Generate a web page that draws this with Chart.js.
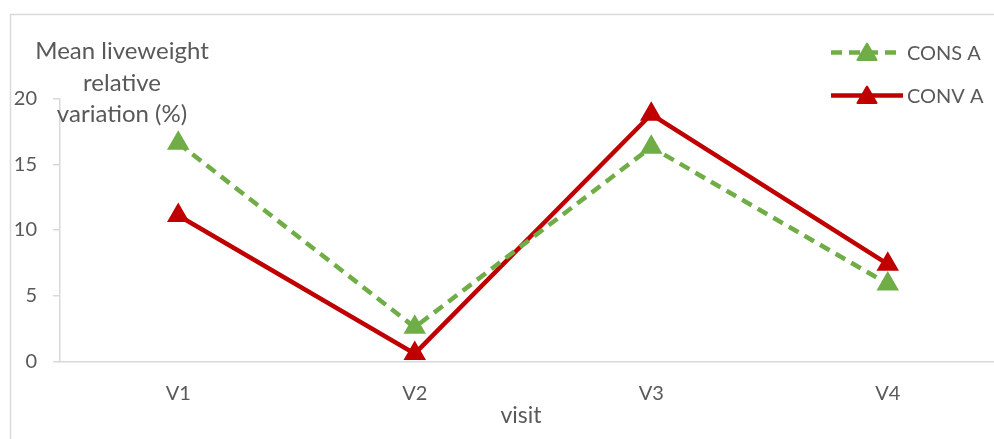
<!DOCTYPE html>
<html>
<head>
<meta charset="utf-8">
<script src="https://cdn.jsdelivr.net/npm/chart.js@4.4.1/dist/chart.umd.min.js"></script>
<style>
  html, body { margin: 0; padding: 0; background: #ffffff; overflow: hidden; width: 994px; height: 439px; }
  #wrap { position: absolute; left: 0; top: 0; width: 1030px; height: 439px; }
</style>
</head>
<body>
<div id="wrap"><canvas id="c" width="1030" height="439"></canvas></div>
<script>
// ---- data ----
const categories = ['V1', 'V2', 'V3', 'V4'];
const consA = [16.6, 2.6, 16.3, 5.9];
const convA = [11.1, 0.6, 18.8, 7.4];
const seriesNames = ['CONS A', 'CONV A'];
const yTitleLines = ['Mean liveweight', 'relative', 'variation (%)'];
const xTitle = 'visit';

const GREEN = '#70AD47';
const RED = '#C00000';
const TEXT = '#595959';
const AXIS = '#D9D9D9';
const FONT = 'Lato, "Open Sans", sans-serif';

function drawTri(ctx, x, y, r, color) {
  ctx.save();
  ctx.fillStyle = color;
  ctx.strokeStyle = color;
  ctx.lineWidth = 2;
  ctx.lineJoin = 'round';
  ctx.beginPath();
  let rad = 0;
  ctx.moveTo(x + Math.sin(rad) * r, y - Math.cos(rad) * r);
  rad += 2 * Math.PI / 3;
  ctx.lineTo(x + Math.sin(rad) * r, y - Math.cos(rad) * r);
  rad += 2 * Math.PI / 3;
  ctx.lineTo(x + Math.sin(rad) * r, y - Math.cos(rad) * r);
  ctx.closePath();
  ctx.fill();
  ctx.stroke();
  ctx.restore();
}

const decor = {
  id: 'decor',
  beforeDraw(chart) {
    const ctx = chart.ctx;
    ctx.save();
    ctx.strokeStyle = AXIS;
    ctx.lineWidth = 1.5;
    ctx.strokeRect(10.5, 14.5, 3000, 3000);
    ctx.restore();
  },
  afterDraw(chart) {
    const ctx = chart.ctx;
    ctx.save();
    ctx.fillStyle = TEXT;
    ctx.textAlign = 'center';
    ctx.textBaseline = 'alphabetic';
    ctx.font = '24px ' + FONT;
    const baselines = [59, 91, 122];
    yTitleLines.forEach((t, i) => ctx.fillText(t, 122, baselines[i]));
    ctx.font = '23px ' + FONT;
    ctx.textBaseline = 'middle';
    ctx.fillText(xTitle, 521, 416);
    // legend
    const rows = [52.5, 95.5];
    chart.data.datasets.forEach((ds, i) => {
      const y = rows[i];
      ctx.save();
      ctx.strokeStyle = ds.borderColor;
      ctx.lineWidth = ds.borderWidth;
      ctx.setLineDash(ds.borderDash || []);
      ctx.beginPath();
      ctx.moveTo(831, y);
      ctx.lineTo(903, y);
      ctx.stroke();
      ctx.restore();
      drawTri(ctx, 867, y + 2, 11, ds.pointBackgroundColor);
      ctx.fillStyle = TEXT;
      ctx.textAlign = 'left';
      ctx.textBaseline = 'middle';
      ctx.font = '20px ' + FONT;
      ctx.fillText(ds.label, 907, y + 1);
    });
    ctx.restore();
  }
};

new Chart(document.getElementById('c'), {
  type: 'line',
  data: {
    labels: categories,
    datasets: [
      {
        label: seriesNames[0], data: consA,
        borderColor: GREEN, backgroundColor: GREEN,
        borderWidth: 4.5, borderDash: [11, 7],
        pointStyle: 'triangle', pointRadius: 11, pointBorderWidth: 2,
        pointBackgroundColor: GREEN, pointBorderColor: GREEN,
        tension: 0, fill: false
      },
      {
        label: seriesNames[1], data: convA,
        borderColor: RED, backgroundColor: RED,
        borderWidth: 4.5,
        pointStyle: 'triangle', pointRadius: 11, pointBorderWidth: 2,
        pointBackgroundColor: RED, pointBorderColor: RED,
        tension: 0, fill: false
      }
    ]
  },
  options: {
    responsive: false,
    animation: false,
    devicePixelRatio: 1,
    layout: { padding: { left: 10, top: 98.5, right: 24, bottom: 0 } },
    plugins: { legend: { display: false }, title: { display: false }, tooltip: { enabled: false } },
    scales: {
      x: {
        type: 'category',
        offset: true,
        afterFit(s) { s.height = 77.5; },
        grid: { display: false, drawTicks: false },
        border: { display: true, color: AXIS, width: 1.5 },
        ticks: { color: TEXT, font: { family: FONT, size: 20 }, padding: 20, maxRotation: 0 }
      },
      y: {
        min: 0, max: 20,
        afterFit(s) { s.width = 50; },
        grid: { drawOnChartArea: false, drawTicks: true, tickLength: 7, color: AXIS, lineWidth: 1.5 },
        border: { display: true, color: AXIS, width: 1.5 },
        ticks: { stepSize: 5, color: TEXT, font: { family: FONT, size: 20 }, padding: 16 }
      }
    }
  },
  plugins: [decor]
});
</script>
</body>
</html>
